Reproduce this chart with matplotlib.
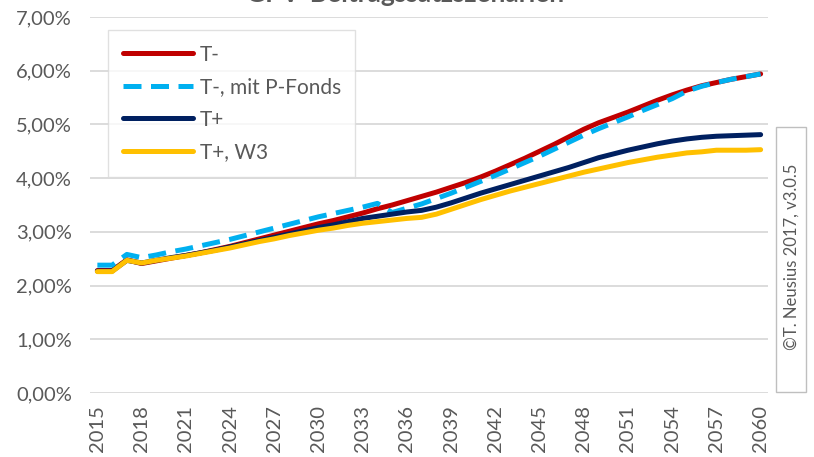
import numpy as np
import matplotlib
matplotlib.use("Agg")
import matplotlib.pyplot as plt
from matplotlib.patches import Rectangle
from matplotlib.ticker import FuncFormatter

plt.rcParams["font.family"] = ["Lato", "DejaVu Sans"]

GRAY_TXT = "#595959"
GRID = "#D9D9D9"

years = list(range(2015, 2061))

t_minus = [2.28, 2.28, 2.48, 2.41, 2.46, 2.51, 2.56, 2.61, 2.67, 2.73,
           2.80, 2.87, 2.94, 3.01, 3.08, 3.15, 3.21, 3.28, 3.35, 3.43,
           3.50, 3.58, 3.66, 3.74, 3.83, 3.92, 4.02, 4.13, 4.25, 4.37,
           4.50, 4.63, 4.77, 4.91, 5.03, 5.13, 5.23, 5.34, 5.45, 5.55,
           5.64, 5.72, 5.78, 5.84, 5.89, 5.94]
t_minus_pf = [2.38, 2.38, 2.58, 2.52, 2.57, 2.63, 2.68, 2.74, 2.80, 2.86,
              2.93, 3.00, 3.07, 3.14, 3.21, 3.28, 3.34, 3.40, 3.46, 3.53,
              3.36, 3.44, 3.52, 3.62, 3.72, 3.83, 3.94, 4.05, 4.17, 4.29,
              4.41, 4.54, 4.67, 4.80, 4.92, 5.03, 5.14, 5.26, 5.37, 5.48,
              5.62, 5.71, 5.78, 5.84, 5.89, 5.94]
t_plus = [2.27, 2.27, 2.47, 2.42, 2.47, 2.52, 2.56, 2.61, 2.66, 2.72,
          2.78, 2.84, 2.90, 2.96, 3.02, 3.08, 3.13, 3.19, 3.25, 3.29,
          3.33, 3.37, 3.40, 3.46, 3.54, 3.63, 3.72, 3.80, 3.88, 3.96,
          4.04, 4.12, 4.20, 4.29, 4.38, 4.45, 4.52, 4.58, 4.64, 4.69,
          4.73, 4.76, 4.78, 4.79, 4.80, 4.81]
t_plus_w3 = [2.26, 2.26, 2.47, 2.42, 2.47, 2.51, 2.55, 2.60, 2.65, 2.70,
             2.76, 2.82, 2.87, 2.93, 2.98, 3.03, 3.07, 3.12, 3.16, 3.19,
             3.22, 3.25, 3.27, 3.33, 3.42, 3.51, 3.60, 3.68, 3.76, 3.83,
             3.90, 3.97, 4.04, 4.11, 4.17, 4.23, 4.29, 4.34, 4.39, 4.43,
             4.47, 4.49, 4.52, 4.52, 4.52, 4.53]

fig = plt.figure(figsize=(8.14, 4.57), dpi=100, facecolor="white")
ax = fig.add_axes([90 / 814, 64 / 457, 678 / 814, 376 / 457])

lw = 3.6
ax.plot(years, t_minus, color="#C00000", lw=lw, solid_capstyle="round", label="T-")
ax.plot(years, t_minus_pf, color="#00B0F0", lw=lw, dashes=(3.6, 1.9),
        label="T-, mit P-Fonds")
ax.plot(years, t_plus, color="#002060", lw=lw, solid_capstyle="round", label="T+")
ax.plot(years, t_plus_w3, color="#FFC000", lw=lw, solid_capstyle="round", label="T+, W3")

ax.set_xlim(2014.5, 2060.5)
ax.set_ylim(0, 7)
ax.set_yticks(np.arange(0, 8, 1))
ax.yaxis.set_major_formatter(FuncFormatter(lambda v, p: f"{v:.2f}%".replace(".", ",")))
ax.set_xticks(years[::3])
ax.set_xticklabels([str(y) for y in years[::3]], rotation=90)
ax.tick_params(axis="both", length=0, labelsize=14.5, colors=GRAY_TXT)
ax.tick_params(axis="y", pad=13)
ax.tick_params(axis="x", pad=9)
ax.grid(axis="y", color=GRID, lw=1.3)
ax.set_axisbelow(True)
for s in ax.spines.values():
    s.set_visible(False)

leg = ax.legend(loc="upper left", bbox_to_anchor=(0.0265, 0.965), borderaxespad=0,
                fontsize=15, frameon=True, fancybox=False, handlelength=3.4,
                handletextpad=0.3, labelspacing=0.6, borderpad=0.7,
                labelcolor=GRAY_TXT)
leg.get_frame().set_edgecolor(GRID)
leg.get_frame().set_linewidth(1.0)

# title, mostly cut off at the top edge (as in the original)
fig.text(405 / 814, 1 - 1.5 / 457, "GPV-Beitragssatzszenarien", ha="center",
         va="baseline", fontsize=19, fontweight="bold", color=GRAY_TXT)

# copyright box
fig.patches.append(Rectangle((776 / 814, 65 / 457), 30 / 814, 265 / 457,
                             transform=fig.transFigure, fill=False,
                             edgecolor="#BFBFBF", lw=1.0))
fig.text(792 / 814, 200 / 457, "©T. Neusius 2017, v3.0.5", rotation=90,
         ha="center", va="center", fontsize=12, color=GRAY_TXT)

fig.savefig("out.png", dpi=100, facecolor="white")
